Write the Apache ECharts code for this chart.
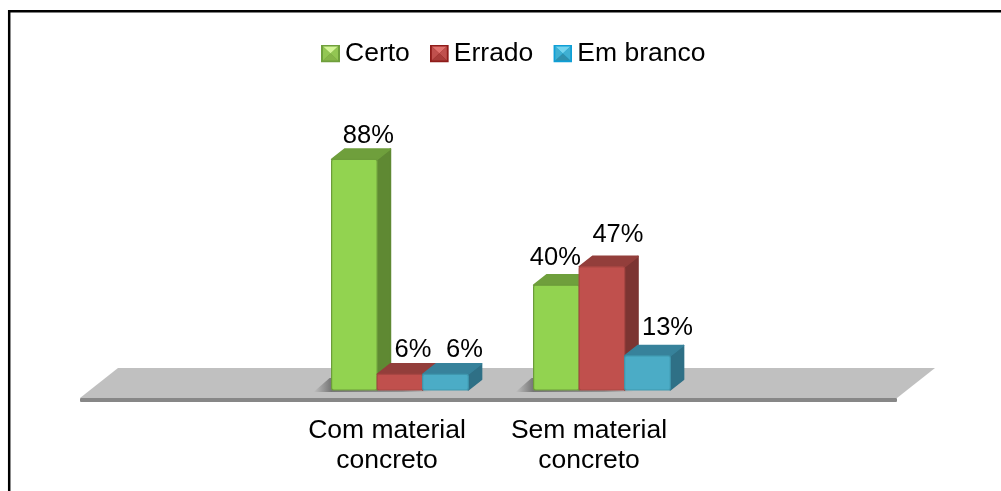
<!DOCTYPE html>
<html>
<head>
<meta charset="utf-8">
<style>html,body{margin:0;padding:0;background:#fff}#c{width:1001px;height:491px}</style>
<script src="https://cdn.jsdelivr.net/npm/echarts@6/dist/echarts.min.js"></script>
</head>
<body>
<div id="c"></div>
<script>
const categories = ['Com material\nconcreto', 'Sem material\nconcreto'];
const seriesNames = ['Certo', 'Errado', 'Em branco'];
const certo = [88, 40];
const errado = [6, 47];
const emBranco = [6, 13];
const seriesValues = [certo, errado, emBranco];

const faceColors = ['#92d350', '#c0504d', '#4bacc6'];
const sideColors = ['#5f8933', '#7c3432', '#2f7086'];
const topColors = ['#6f9f3c', '#933e3b', '#37829b'];
const edgeColors = ['#6c9c3a', '#a84643', '#3f97ae'];
// legend swatches: [outer, upper facet, side facets, lower facet]
const swatchColors = [
  ['#6f9f3c', '#d3f596', '#93c653', '#86b548'],
  ['#8f1c1a', '#e0726e', '#c0504d', '#a83c39'],
  ['#0f9fd6', '#74d4ee', '#3fb0d2', '#2f90ad']
];
// hand-placed label nudges of the original, per series / category: [dx, dy]
const labelNudge = [
  [[14, 0], [-1, -4]],
  [[13, -1], [16, -8]],
  [[19, -1], [20, -4]]
];

const FONT = '"Liberation Sans", Arial, sans-serif';
const chart = echarts.init(document.getElementById('c'), null, {renderer: 'canvas'});

function swatch(c) {
  const svg = '<svg xmlns="http://www.w3.org/2000/svg" width="19" height="18" viewBox="0 0 19 18">' +
    '<rect width="19" height="18" fill="' + c[0] + '"/>' +
    '<polygon points="2,2 17,2 9.5,9" fill="' + c[1] + '"/>' +
    '<polygon points="2,2 9.5,9 2,16" fill="' + c[2] + '"/>' +
    '<polygon points="17,2 9.5,9 17,16" fill="' + c[2] + '"/>' +
    '<polygon points="2,16 17,16 9.5,9" fill="' + c[3] + '"/></svg>';
  return 'image://data:image/svg+xml;charset=utf-8,' + encodeURIComponent(svg);
}

function renderBar(sIdx) {
  return function (params, api) {
    const cat = api.value(0), val = api.value(1);
    const base = api.coord([cat, 0]);
    const top = api.coord([cat, val]);
    const band = api.size([1, 0])[0];
    const w = band * 0.2255;
    const shift = band * 0.064;
    const dx = band * 0.066, dy = -band * 0.052;
    const cx = base[0] + shift + (sIdx - 1) * w;
    const x0 = cx - w / 2, x1 = cx + w / 2, yT = top[1], yB = base[1];
    const nudge = labelNudge[sIdx][cat];
    const children = [];
    if (sIdx === 0) {
      children.push({type: 'polygon', shape: {points: [[x0 - 18, yB + 2], [x0 - 2, yB - 12], [x0 + w * 2.2, yB - 12], [x0 + w * 2.2, yB + 2]]},
        style: {fill: {type: 'linear', x: 0, y: 0, x2: 1, y2: 0, colorStops: [
          {offset: 0, color: 'rgba(110,110,110,0)'}, {offset: 0.15, color: 'rgba(110,110,110,0.9)'},
          {offset: 0.75, color: 'rgba(125,125,125,0.7)'}, {offset: 1, color: 'rgba(150,150,150,0)'}]}}});
    }
    children.push(
      {type: 'polygon', shape: {points: [[x1, yT], [x1 + dx, yT + dy], [x1 + dx, yB + dy], [x1, yB]]},
        style: {fill: sideColors[sIdx], stroke: sideColors[sIdx], lineWidth: 1.5, lineJoin: 'round'}},
      {type: 'polygon', shape: {points: [[x0, yT], [x0 + dx, yT + dy], [x1 + dx, yT + dy], [x1, yT]]},
        style: {fill: topColors[sIdx], stroke: topColors[sIdx], lineWidth: 1.5, lineJoin: 'round'}},
      {type: 'rect', shape: {x: x0, y: yT, width: w, height: yB - yT, r: 2},
        style: {fill: faceColors[sIdx], stroke: edgeColors[sIdx], lineWidth: 1.2}},
      {type: 'text', style: {
        text: val + '%', x: cx + nudge[0], y: yT + dy + nudge[1],
        align: 'center', verticalAlign: 'bottom',
        font: '25.5px ' + FONT, fill: '#000'
      }}
    );
    return {type: 'group', children};
  };
}

chart.setOption({
  animation: false,
  backgroundColor: '#fff',
  legend: {
    data: seriesNames.map((name, i) => ({name, icon: swatch(swatchColors[i])})),
    top: 40,
    left: 321,
    padding: 0,
    itemWidth: 19,
    itemHeight: 18,
    itemGap: 20,
    textStyle: {fontFamily: FONT, fontSize: 26.5, color: '#000', padding: [9, 0, 0, 0]}
  },
  grid: {left: 286, top: 128, width: 404, height: 262},
  xAxis: {
    type: 'category',
    data: categories,
    axisLine: {show: false},
    axisTick: {show: false},
    axisLabel: {fontFamily: FONT, fontSize: 26.5, color: '#000', margin: 26, lineHeight: 30, interval: 0}
  },
  yAxis: {type: 'value', min: 0, max: 100, show: false},
  graphic: [
    {type: 'rect', z: 0, silent: true,
      shape: {x: 9.2, y: 11.2, width: 1100, height: 600},
      style: {fill: '#fff', stroke: '#000', lineWidth: 2.5}},
    {type: 'polygon', z: 1, silent: true,
      shape: {points: [[80, 398], [118, 368], [935, 368], [897, 398]]},
      style: {fill: '#c0c0c0'}},
    {type: 'rect', z: 1, silent: true,
      shape: {x: 80, y: 398, width: 817, height: 4, r: 1},
      style: {fill: '#878787'}}
  ],
  series: seriesNames.map((name, i) => ({
    name,
    type: 'custom',
    coordinateSystem: 'cartesian2d',
    clip: false,
    z: 3 + i,
    itemStyle: {color: faceColors[i]},
    encode: {x: 0, y: 1},
    renderItem: renderBar(i),
    data: seriesValues[i].map((v, c) => [c, v])
  }))
});
</script>
</body>
</html>
